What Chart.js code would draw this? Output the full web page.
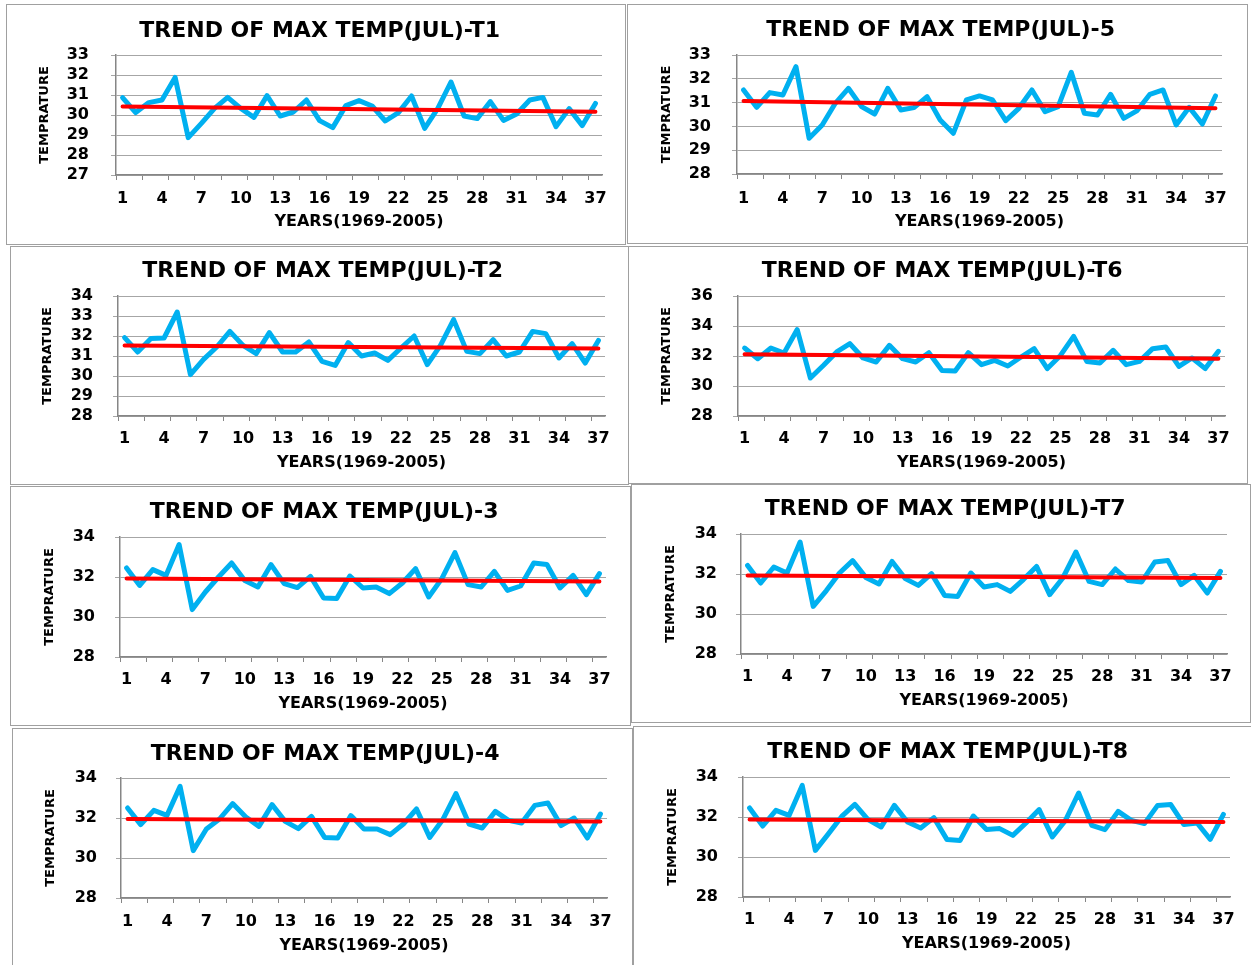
<!DOCTYPE html>
<html>
<head>
<meta charset="utf-8">
<title>Trend of max temp (Jul)</title>
<script src="https://cdn.jsdelivr.net/npm/chart.js@4.4.1/dist/chart.umd.min.js"></script>
<style>
  html, body { margin: 0; padding: 0; background: #fff; }
  body { width: 1251px; height: 965px; position: relative; overflow: hidden; }
  .panel { position: absolute; box-sizing: border-box; border: 1px solid #a0a0a0; background: #fff; }
  .panel canvas { position: absolute; left: 0; top: 0; }
</style>
</head>
<body>
<script>
// categories: year index 1..37 (1969-2005)
const years = [1, 2, 3, 4, 5, 6, 7, 8, 9, 10, 11, 12, 13, 14, 15, 16, 17, 18, 19,
  20, 21, 22, 23, 24, 25, 26, 27, 28, 29, 30, 31, 32, 33, 34, 35, 36, 37];

// July max temperature per station
const tempT1 = [30.87, 30.12, 30.62, 30.75, 31.88, 28.87, 29.58, 30.33, 30.88, 30.33, 29.88, 30.97, 29.95, 30.15, 30.75, 29.72, 29.37, 30.47, 30.72, 30.45, 29.70, 30.12, 30.95, 29.33, 30.33, 31.65, 29.95, 29.82, 30.67, 29.73, 30.05, 30.75, 30.88, 29.42, 30.32, 29.47, 30.58];
const temp5 = [31.53, 30.80, 31.42, 31.32, 32.51, 29.50, 30.06, 30.97, 31.60, 30.83, 30.52, 31.60, 30.69, 30.79, 31.25, 30.27, 29.71, 31.11, 31.28, 31.11, 30.24, 30.76, 31.53, 30.62, 30.83, 32.27, 30.55, 30.48, 31.35, 30.34, 30.65, 31.35, 31.53, 30.06, 30.80, 30.10, 31.28];
const tempT2 = [31.92, 31.20, 31.87, 31.90, 33.20, 30.07, 30.83, 31.45, 32.23, 31.53, 31.12, 32.17, 31.20, 31.20, 31.70, 30.73, 30.53, 31.67, 31.00, 31.15, 30.78, 31.40, 32.00, 30.57, 31.53, 32.82, 31.23, 31.12, 31.82, 31.00, 31.20, 32.23, 32.12, 30.90, 31.62, 30.65, 31.78];
const tempT6 = [32.53, 31.82, 32.53, 32.20, 33.76, 30.53, 31.38, 32.27, 32.82, 31.87, 31.60, 32.71, 31.82, 31.60, 32.22, 31.04, 31.00, 32.22, 31.42, 31.71, 31.33, 31.93, 32.49, 31.16, 32.04, 33.31, 31.64, 31.53, 32.38, 31.42, 31.64, 32.49, 32.60, 31.31, 31.87, 31.16, 32.31];
const temp3 = [32.45, 31.58, 32.37, 32.08, 33.62, 30.37, 31.25, 32.00, 32.70, 31.83, 31.50, 32.62, 31.67, 31.47, 32.03, 30.95, 30.92, 32.05, 31.45, 31.50, 31.17, 31.70, 32.42, 31.00, 31.92, 33.22, 31.62, 31.50, 32.28, 31.33, 31.55, 32.70, 32.63, 31.45, 32.08, 31.12, 32.17];
const tempT7 = [32.43, 31.55, 32.35, 32.05, 33.60, 30.38, 31.17, 32.05, 32.67, 31.83, 31.50, 32.63, 31.77, 31.43, 32.02, 30.93, 30.88, 32.05, 31.35, 31.47, 31.13, 31.72, 32.38, 30.97, 31.80, 33.10, 31.63, 31.47, 32.25, 31.67, 31.60, 32.60, 32.67, 31.47, 31.93, 31.05, 32.13];
const temp4 = [32.50, 31.67, 32.38, 32.13, 33.58, 30.37, 31.45, 31.95, 32.72, 32.05, 31.58, 32.67, 31.83, 31.47, 32.08, 31.03, 31.00, 32.12, 31.45, 31.45, 31.17, 31.70, 32.45, 31.03, 31.92, 33.22, 31.70, 31.50, 32.33, 31.88, 31.75, 32.63, 32.75, 31.62, 32.00, 31.00, 32.20];
const tempT8 = [32.45, 31.55, 32.33, 32.08, 33.58, 30.33, 31.17, 32.03, 32.63, 31.87, 31.50, 32.58, 31.75, 31.45, 31.97, 30.87, 30.83, 32.05, 31.37, 31.42, 31.08, 31.70, 32.37, 31.00, 31.83, 33.20, 31.58, 31.37, 32.28, 31.83, 31.67, 32.58, 32.62, 31.62, 31.70, 30.88, 32.13];

// linear trend: value at year 1 and at year 37
const trendT1 = [30.42, 30.16];
const trend5 = [31.07, 30.76];
const trendT2 = [31.53, 31.37];
const trendT6 = [32.11, 31.82];
const trend3 = [31.92, 31.78];
const trendT7 = [31.92, 31.80];
const trend4 = [31.95, 31.83];
const trendT8 = [31.88, 31.75];

// y axis ranges [min, max, step]
const rangeT1 = [27, 33, 1];
const range5 = [28, 33, 1];
const rangeT2 = [28, 34, 1];
const rangeT6 = [28, 36, 2];
const range3 = [28, 34, 2];
const rangeT7 = [28, 34, 2];
const range4 = [28, 34, 2];
const rangeT8 = [28, 34, 2];

const xTitle = 'YEARS(1969-2005)';
const yTitle = 'TEMPRATURE';

// page layout: box [x,y,w,h], plot [left,top,right,bottom], text anchors
const panels = [
  { title: 'TREND OF MAX TEMP(JUL)-T1', values: tempT1, trend: trendT1, range: rangeT1,
    box: [6, 4, 620, 241], plot: [116, 55, 602, 175], txt: { titleY: 31, yTitleX: 45, yTickRight: 89, xTickY: 199, xTitleY: 222 } },
  { title: 'TREND OF MAX TEMP(JUL)-5', values: temp5, trend: trend5, range: range5,
    box: [627, 4, 621, 240], plot: [737, 55, 1222, 174], txt: { titleY: 30, yTitleX: 667, yTickRight: 711, xTickY: 199, xTitleY: 222 } },
  { title: 'TREND OF MAX TEMP(JUL)-T2', values: tempT2, trend: trendT2, range: rangeT2,
    box: [10, 246, 619, 239], plot: [118, 296, 605, 416], txt: { titleY: 271, yTitleX: 48, yTickRight: 93, xTickY: 439, xTitleY: 463 } },
  { title: 'TREND OF MAX TEMP(JUL)-T6', values: tempT6, trend: trendT6, range: rangeT6,
    box: [628, 246, 620, 238], plot: [738, 296, 1225, 416], txt: { titleY: 271, yTitleX: 667, yTickRight: 713, xTickY: 439, xTitleY: 463 } },
  { title: 'TREND OF MAX TEMP(JUL)-3', values: temp3, trend: trend3, range: range3,
    box: [10, 486, 621, 240], plot: [120, 537, 606, 657], txt: { titleY: 512, yTitleX: 50, yTickRight: 95, xTickY: 680, xTitleY: 704 } },
  { title: 'TREND OF MAX TEMP(JUL)-T7', values: tempT7, trend: trendT7, range: rangeT7,
    box: [631, 484, 620, 239], plot: [741, 534, 1227, 654], txt: { titleY: 509, yTitleX: 671, yTickRight: 717, xTickY: 677, xTitleY: 701 } },
  { title: 'TREND OF MAX TEMP(JUL)-4', values: temp4, trend: trend4, range: range4,
    box: [12, 728, 621, 240], plot: [121, 778, 607, 898], txt: { titleY: 754, yTitleX: 51, yTickRight: 97, xTickY: 922, xTitleY: 946 } },
  { title: 'TREND OF MAX TEMP(JUL)-T8', values: tempT8, trend: trendT8, range: rangeT8,
    box: [633, 726, 620, 242], plot: [743, 777, 1230, 897], txt: { titleY: 752, yTitleX: 673, yTickRight: 718, xTickY: 920, xTitleY: 944 } }
];

const FAMILY = "'DejaVu Sans', 'Liberation Sans', sans-serif";
const TITLE_SIZE = 22, YTITLE_SIZE = 13, TICK_SIZE = 16, XTITLE_SIZE = 16;
const TICK_LEN = 5;
const GRID = '#a6a6a6', AXIS = '#868686';
const BLUE = '#00b0f0', RED = '#ff0000';

function makePanel(p) {
  const [bx, by, bw, bh] = p.box;
  const div = document.createElement('div');
  div.className = 'panel';
  div.style.left = bx + 'px';
  div.style.top = by + 'px';
  div.style.width = bw + 'px';
  div.style.height = bh + 'px';
  const cv = document.createElement('canvas');
  const cw = bw - 2, ch = bh - 2;
  cv.width = cw; cv.height = ch;
  cv.style.width = cw + 'px'; cv.style.height = ch + 'px';
  div.appendChild(cv);
  document.body.appendChild(div);

  // convert page anchors into canvas-relative layout numbers
  const ox = bx + 1, oy = by + 1;
  const pl = p.plot[0] - ox, pt = p.plot[1] - oy, pr = p.plot[2] - ox, pb = p.plot[3] - oy;
  const t = p.txt;
  const padLeft = Math.max(0, t.yTitleX - ox - YTITLE_SIZE * 0.6);
  const yAxisW = pl - padLeft;
  const yTickPad = pl - TICK_LEN - (t.yTickRight - ox);
  const titleLH = TITLE_SIZE * 1.2;
  const titlePadTop = Math.max(0, t.titleY - oy - titleLH / 2);
  const titlePadBottom = Math.max(0, pt - titlePadTop - titleLH);
  const xTickPad = (t.xTickY - oy) - pb - TICK_LEN - TICK_SIZE * 0.6;
  const xTitlePadBottom = Math.max(0, ch - (t.xTitleY - oy) - XTITLE_SIZE * 0.6);
  const xAxisH = ch - pb;
  const padRight = cw - pr;

  const last = years.length - 1;
  const trendData = years.map((_, i) => i === 0 ? p.trend[0] : (i === last ? p.trend[1] : null));

  new Chart(cv, {
    type: 'line',
    data: {
      labels: years,
      datasets: [
        {
          label: 'Linear trend',
          data: trendData,
          borderColor: RED,
          borderWidth: 4,
          borderCapStyle: 'round',
          pointRadius: 0,
          spanGaps: true,
          order: 0
        },
        {
          label: 'Max temp',
          data: p.values,
          borderColor: BLUE,
          borderWidth: 5,
          borderJoinStyle: 'round',
          borderCapStyle: 'round',
          pointRadius: 0,
          tension: 0,
          order: 1
        }
      ]
    },
    options: {
      responsive: false,
      animation: false,
      layout: { padding: { left: padLeft, right: padRight, top: 0, bottom: 0 } },
      plugins: {
        legend: { display: false },
        tooltip: { enabled: false },
        title: {
          display: true,
          text: p.title,
          color: '#000',
          font: { family: FAMILY, size: TITLE_SIZE, weight: 'bold' },
          padding: { top: titlePadTop, bottom: titlePadBottom }
        }
      },
      scales: {
        x: {
          type: 'category',
          offset: true,
          grid: {
            drawOnChartArea: false,
            drawTicks: true,
            tickLength: TICK_LEN,
            offset: true,
            color: ctx => ctx.index % 2 === 0 ? AXIS : 'rgba(0,0,0,0)'
          },
          border: { color: AXIS, width: 1.5 },
          ticks: {
            autoSkip: false,
            maxRotation: 0,
            minRotation: 0,
            padding: xTickPad,
            color: '#000',
            font: { family: FAMILY, size: TICK_SIZE, weight: 'bold' },
            callback: (v, i) => i % 3 === 0 ? String(years[i]) : ''
          },
          title: {
            display: true,
            text: xTitle,
            color: '#000',
            font: { family: FAMILY, size: XTITLE_SIZE, weight: 'bold' },
            padding: { top: 0, bottom: xTitlePadBottom }
          },
          afterFit(scale) { scale.height = xAxisH; }
        },
        y: {
          min: p.range[0],
          max: p.range[1],
          grid: { color: GRID, lineWidth: 1, drawTicks: true, tickLength: TICK_LEN },
          border: { color: AXIS, width: 1.5 },
          ticks: {
            stepSize: p.range[2],
            autoSkip: false,
            padding: yTickPad,
            color: '#000',
            font: { family: FAMILY, size: TICK_SIZE, weight: 'bold' }
          },
          title: {
            display: true,
            text: yTitle,
            color: '#000',
            font: { family: FAMILY, size: YTITLE_SIZE, weight: 'bold' },
            padding: { top: 0, bottom: 0 }
          },
          afterFit(scale) { scale.width = yAxisW; }
        }
      }
    }
  });
}

panels.forEach(makePanel);
</script>
</body>
</html>
